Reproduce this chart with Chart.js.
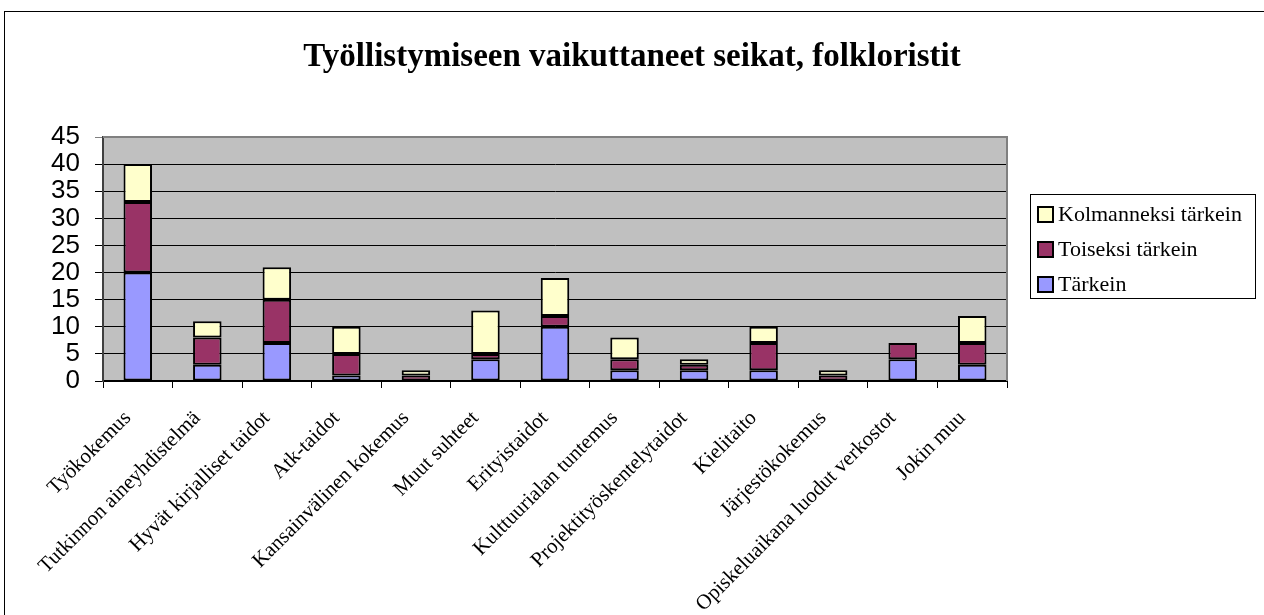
<!DOCTYPE html>
<html lang="fi">
<head>
<meta charset="utf-8">
<title>Työllistymiseen vaikuttaneet seikat, folkloristit</title>
<script src="https://cdn.jsdelivr.net/npm/chart.js@4.4.1/dist/chart.umd.min.js"></script>
<style>
  html, body { margin: 0; padding: 0; background: #fff; overflow: hidden; }
  #wrap { position: relative; width: 1264px; height: 615px; }
  #frame { position: absolute; left: 4px; top: 11px; width: 1300px; height: 700px; border: 1px solid #000; }
  #chart { position: absolute; left: 0; top: 0; }
</style>
</head>
<body>
<div id="wrap">
  <div id="frame"></div>
  <canvas id="chart" width="1264" height="615"></canvas>
</div>
<script>
// Data
const categories = [
    'Työkokemus', 'Tutkinnon aineyhdistelmä', 'Hyvät kirjalliset taidot', 'Atk-taidot',
    'Kansainvälinen kokemus', 'Muut suhteet', 'Erityistaidot', 'Kulttuurialan tuntemus',
    'Projektityöskentelytaidot', 'Kielitaito', 'Järjestökokemus',
    'Opiskeluaikana luodut verkostot', 'Jokin muu'
];
const tarkein      = [20, 3, 7, 1, 0, 4, 10, 2, 2, 2, 0, 4, 3];
const toiseksi     = [13, 5, 8, 4, 1, 1, 2, 2, 1, 5, 1, 3, 4];
const kolmanneksi  = [7, 3, 6, 5, 1, 8, 7, 4, 1, 3, 1, 0, 5];
const seriesLabels = ['Tärkein', 'Toiseksi tärkein', 'Kolmanneksi tärkein'];
const seriesColors = ['#9999FF', '#993366', '#FFFFCC'];
const yMax = 45;
const yStep = 5;

const serif = '"Liberation Serif", "Times New Roman", serif';
const sans = '"Liberation Sans", Arial, sans-serif';

// grey plot area + frame round it
const plotBackground = {
    id: 'plotBackground',
    beforeDraw(chart) {
        const { ctx, chartArea: a } = chart;
        ctx.save();
        ctx.fillStyle = '#C0C0C0';
        ctx.fillRect(a.left, a.top, a.right - a.left, a.bottom - a.top);
        ctx.restore();
    },
    beforeDatasetsDraw(chart) {
        const { ctx, chartArea: a } = chart;
        ctx.save();
        ctx.strokeStyle = '#808080';
        ctx.lineWidth = 2;
        ctx.beginPath();
        ctx.moveTo(a.left, a.top);
        ctx.lineTo(a.right, a.top);
        ctx.lineTo(a.right, a.bottom);
        ctx.stroke();
        ctx.restore();
    }
};

// legend in a box, last series on top like the original
const boxLegend = {
    id: 'boxLegend',
    afterDraw(chart) {
        const { ctx, chartArea: a } = chart;
        const left = a.right + 23, top = 194, w = 225, h = 104;
        ctx.save();
        ctx.strokeStyle = '#000';
        ctx.lineWidth = 1;
        ctx.strokeRect(left + 0.5, top + 0.5, w, h);
        ctx.font = '22px ' + serif;
        ctx.textBaseline = 'middle';
        ctx.textAlign = 'left';
        chart.data.datasets.slice().reverse().forEach((ds, i) => {
            const cy = top + 20 + i * 35;
            ctx.fillStyle = ds.backgroundColor;
            ctx.fillRect(left + 8, cy - 7, 15, 15);
            ctx.lineWidth = 2;
            ctx.strokeStyle = '#000';
            ctx.strokeRect(left + 8, cy - 7, 15, 15);
            ctx.fillStyle = '#000';
            ctx.fillText(ds.label, left + 28, cy + 1);
        });
        ctx.restore();
    }
};

const values = [tarkein, toiseksi, kolmanneksi];

new Chart(document.getElementById('chart'), {
    type: 'bar',
    data: {
        labels: categories,
        datasets: values.map((v, i) => ({
            label: seriesLabels[i],
            data: v,
            backgroundColor: seriesColors[i],
            borderColor: '#000',
            borderWidth: 2,
            borderSkipped: false,
            categoryPercentage: 1,
            barPercentage: 0.41
        }))
    },
    options: {
        responsive: false,
        animation: false,
        plugins: {
            legend: { display: false },
            tooltip: { enabled: false },
            title: {
                display: true,
                text: 'Työllistymiseen vaikuttaneet seikat, folkloristit',
                color: '#000',
                font: { family: serif, size: 33, weight: 'bold' },
                padding: { top: 38, bottom: 59.4 }
            }
        },
        scales: {
            x: {
                stacked: true,
                grid: { drawOnChartArea: false, drawTicks: true, tickLength: 7, color: '#000', offset: true },
                border: { display: true, color: '#000', width: 2 },
                ticks: {
                    autoSkip: false,
                    minRotation: 45,
                    maxRotation: 45,
                    padding: 18,
                    labelOffset: -10,
                    color: '#000',
                    font: { family: serif, size: 21 }
                },
                afterFit(scale) { scale.height = 234; }
            },
            y: {
                stacked: true,
                min: 0,
                max: yMax,
                ticks: {
                    stepSize: yStep,
                    autoSkip: false,
                    padding: 15,
                    color: '#000',
                    font: { family: sans, size: 26, lineHeight: 0.8 }
                },
                grid: {
                    tickLength: 8,
                    color: ctx => ctx.tick && ctx.tick.value === yMax ? '#808080' : '#000'
                },
                border: { display: true, color: '#404040', width: 2 },
                afterFit(scale) { scale.width = 103; }
            },
            // empty axis on the right, keeps room for the legend box
            side: {
                position: 'right',
                display: true,
                grid: { display: false },
                border: { display: false },
                ticks: { display: false },
                afterFit(scale) { scale.width = 257; }
            }
        }
    },
    plugins: [plotBackground, boxLegend]
});
</script>
</body>
</html>
